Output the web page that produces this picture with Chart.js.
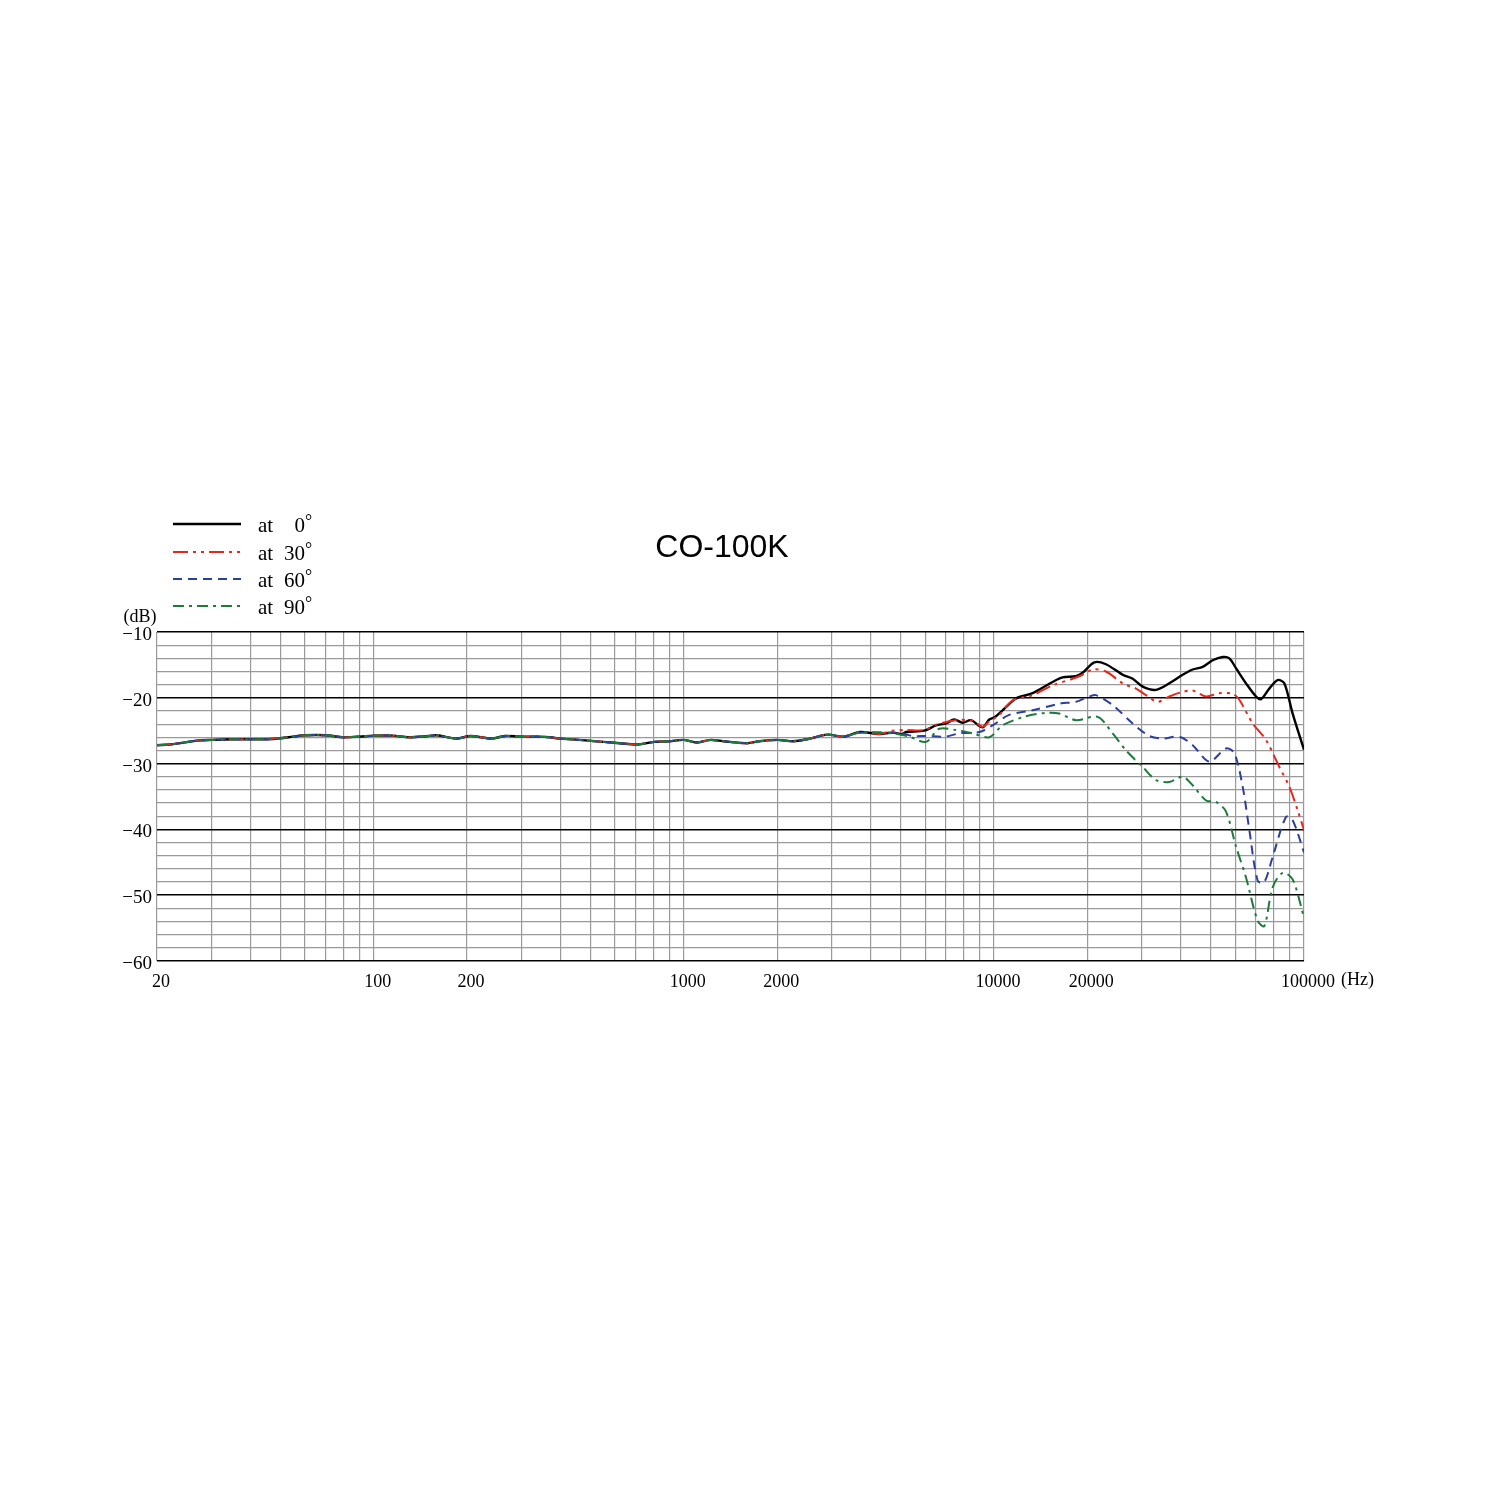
<!DOCTYPE html>
<html>
<head>
<meta charset="utf-8">
<script src="https://cdn.jsdelivr.net/npm/chart.js@4"></script>
<style>
  html, body { margin: 0; padding: 0; background: #fff; }
  canvas { display: block; }
</style>
</head>
<body>
<canvas id="resp" width="1500" height="1500"></canvas>
<script>
// readings off the CO-100K polar response sheet (Hz / dB)
const sharedFreq = [20, 22, 24, 27, 30, 35, 40, 45, 50, 55, 60, 70, 80, 90, 100, 115, 130, 150, 160, 185, 205, 240, 265, 300, 340, 370, 400, 460, 550, 620, 710, 800, 900, 1000, 1100, 1220, 1340, 1600, 1750, 2000, 2250, 2500, 2900, 3270]
const sharedDb = [-27.2, -27.1, -26.85, -26.5, -26.4, -26.3, -26.3, -26.3, -26.15, -25.9, -25.7, -25.7, -26.0, -25.9, -25.75, -25.75, -26.0, -25.8, -25.7, -26.2, -25.8, -26.2, -25.8, -25.9, -25.9, -26.0, -26.2, -26.4, -26.7, -26.9, -27.1, -26.7, -26.6, -26.4, -26.8, -26.4, -26.6, -26.9, -26.6, -26.4, -26.6, -26.3, -25.6, -25.9]

const freq0 = [3700, 4270, 4710, 5070, 5200, 5960, 6500, 7000, 7450, 7920, 8430, 9190, 9660, 10020, 10660, 11780, 13330, 15460, 16650, 18390, 19320, 21080, 22980, 26010, 28020, 30180, 33320, 36790, 40620, 43750, 47120, 50750, 54670, 57440, 60350, 65010, 70020, 72670, 77290, 82230, 86400, 91920, 100000]
const db0 = [-25.2, -25.5, -25.3, -25.5, -25.2, -25.0, -24.2, -23.9, -23.3, -23.8, -23.4, -24.5, -23.3, -23.0, -21.9, -20.1, -19.3, -17.6, -16.9, -16.7, -16.2, -14.6, -14.9, -16.5, -17.1, -18.3, -18.8, -17.8, -16.5, -15.7, -15.3, -14.3, -13.8, -14.0, -15.5, -17.8, -19.8, -20.2, -18.6, -17.3, -17.8, -22.4, -27.9]

const freq30 = [3700, 4270, 4710, 5200, 5960, 6500, 7540, 8540, 9190, 9660, 10400, 11490, 13330, 15460, 17940, 19320, 20820, 22980, 26010, 28730, 30930, 33740, 36790, 40620, 43750, 48300, 53330, 58880, 61860, 68310, 75400, 83250, 89670, 95420, 100000]
const db30 = [-25.2, -25.5, -25.0, -24.9, -24.9, -24.1, -23.4, -23.5, -24.4, -23.6, -22.6, -20.4, -19.6, -18.1, -17.1, -16.5, -15.7, -16.0, -17.8, -18.6, -19.6, -20.6, -19.8, -19.1, -18.9, -19.8, -19.3, -19.4, -20.3, -23.9, -26.4, -30.5, -33.5, -37.1, -40.1]

const freq60 = [3700, 4710, 5070, 5470, 6040, 7000, 7730, 8970, 9900, 11200, 13330, 16240, 18390, 20300, 21330, 24150, 28020, 31710, 35010, 39620, 43750, 49510, 56030, 59610, 63420, 66640, 70890, 74470, 79220, 87480, 91920, 100000]
const db60 = [-25.3, -25.3, -25.4, -25.8, -25.8, -25.9, -25.4, -25.2, -24.2, -22.6, -21.9, -20.9, -20.6, -19.8, -19.6, -21.1, -23.9, -25.8, -26.2, -25.9, -27.2, -29.7, -27.7, -28.4, -33.5, -40.1, -47.8, -48.0, -44.2, -38.1, -38.6, -43.5]

const freq90 = [3700, 4710, 5330, 6040, 6660, 7540, 8540, 9660, 10660, 12690, 14720, 16240, 18390, 21600, 24150, 26670, 30180, 33320, 36790, 40620, 43750, 48300, 52030, 56030, 60350, 65010, 70890, 74470, 79220, 85340, 91920, 100000]
const db90 = [-25.3, -25.4, -25.9, -26.7, -24.7, -24.9, -25.4, -26.0, -24.2, -22.8, -22.3, -22.4, -23.4, -22.9, -25.4, -28.0, -30.5, -32.5, -32.8, -32.0, -33.3, -35.6, -35.8, -37.3, -42.6, -47.3, -53.9, -54.7, -48.8, -46.6, -47.6, -53.4]

const seriesNames = ['at', 'at', 'at', 'at']
const seriesAngles = ['0', '30', '60', '90']
const xGridValues = [20, 30, 40, 50, 60, 70, 80, 90, 100, 200, 300, 400, 500, 600, 700, 800, 900, 1000, 2000, 3000, 4000, 5000, 6000, 7000, 8000, 9000, 10000, 20000, 30000, 40000, 50000, 60000, 70000, 80000, 90000, 100000]
const xTickLabels = { 20: '20', 100: '100', 200: '200', 1000: '1000', 2000: '2000', 10000: '10000', 20000: '20000', 100000: '100000' }
const yGridValues = [-60, -58, -56, -54, -52, -50, -48, -46, -44, -42, -40, -38, -36, -34, -32, -30, -28, -26, -24, -22, -20, -18, -16, -14, -12, -10]

function points(f, d) {
  const fs = sharedFreq.concat(f)
  const ds = sharedDb.concat(d)
  return fs.map((v, i) => ({ x: v, y: ds[i] }))
}

const styles = [
  { color: '#000000', width: 2.4, dash: [] },
  { color: '#e8261e', width: 2, dash: [15, 5, 3, 5, 3, 5] },
  { color: '#2c3f9c', width: 2, dash: [9, 6] },
  { color: '#1c7a3a', width: 2, dash: [11, 5, 3, 5] }
]

const serifFont = "'Liberation Serif', 'DejaVu Serif', serif"

const sheetDecor = {
  id: 'sheetDecor',
  afterDraw(chart) {
    const ctx = chart.ctx
    ctx.save()
    // title
    ctx.fillStyle = '#000'
    ctx.font = "32px 'Liberation Sans', Arial, sans-serif"
    ctx.textAlign = 'center'
    ctx.textBaseline = 'middle'
    ctx.fillText('CO-100K', 722, 548)

    // legend
    const rows = [524, 552, 579, 606]
    rows.forEach((y, i) => {
      const s = styles[i]
      ctx.beginPath()
      ctx.strokeStyle = s.color
      ctx.lineWidth = i === 0 ? 2.4 : 2.2
      ctx.setLineDash(s.dash)
      ctx.moveTo(173, y)
      ctx.lineTo(241, y)
      ctx.stroke()
      ctx.setLineDash([])
      ctx.fillStyle = '#000'
      ctx.font = '21px ' + serifFont
      ctx.textBaseline = 'alphabetic'
      ctx.textAlign = 'left'
      ctx.fillText(seriesNames[i], 258, y + 8)
      ctx.textAlign = 'right'
      ctx.fillText(seriesAngles[i], 305, y + 8)
      ctx.textAlign = 'left'
      ctx.font = '18px ' + serifFont
      ctx.fillText('°', 305, y + 3)
    })

    // axis units
    ctx.font = '18px ' + serifFont
    ctx.textAlign = 'center'
    ctx.textBaseline = 'middle'
    ctx.fillText('(dB)', 140, 617)
    ctx.textAlign = 'left'
    ctx.fillText('(Hz)', 1341, 980)
    ctx.restore()
  }
}

new Chart(document.getElementById('resp'), {
  type: 'line',
  data: {
    datasets: [
      { label: 'at 0°', data: points(freq0, db0), order: 4 },
      { label: 'at 30°', data: points(freq30, db30), order: 3 },
      { label: 'at 60°', data: points(freq60, db60), order: 2 },
      { label: 'at 90°', data: points(freq90, db90), order: 1 }
    ].map((ds, i) => Object.assign(ds, {
      borderColor: styles[i].color,
      borderWidth: styles[i].width,
      borderDash: styles[i].dash,
      pointRadius: 0,
      tension: 0.3,
      fill: false
    }))
  },
  options: {
    responsive: false,
    animation: false,
    devicePixelRatio: 1,
    layout: { padding: { left: 0, top: 632, right: 196, bottom: 499 } },
    plugins: { legend: { display: false }, tooltip: { enabled: false } },
    scales: {
      x: {
        type: 'logarithmic',
        min: 20,
        max: 100000,
        afterBuildTicks(scale) {
          scale.ticks = xGridValues.map(v => ({ value: v }))
        },
        afterFit(scale) { scale.height = 40 },
        border: { display: false },
        grid: { color: '#9a9a9a', lineWidth: 1.2, drawTicks: false },
        ticks: {
          autoSkip: false,
          maxRotation: 0,
          padding: 10,
          labelOffset: 4,
          color: '#000',
          font: { family: serifFont, size: 18 },
          callback(value) { return xTickLabels[value] || '' }
        }
      },
      y: {
        min: -60,
        max: -10,
        afterBuildTicks(scale) {
          scale.ticks = yGridValues.map(v => ({ value: v }))
        },
        afterFit(scale) { scale.width = 157 },
        border: { display: false },
        grid: {
          drawTicks: false,
          color: c => (c.tick && c.tick.value % 10 === 0) ? '#000' : '#9a9a9a',
          lineWidth: c => (c.tick && c.tick.value % 10 === 0) ? 1.5 : 1.2
        },
        ticks: {
          autoSkip: false,
          padding: 5,
          labelOffset: 3,
          color: '#000',
          font: { family: serifFont, size: 19 },
          callback(value) { return value % 10 === 0 ? '\u2212' + Math.abs(value) : '' }
        }
      }
    }
  },
  plugins: [sheetDecor]
})
</script>
</body>
</html>
